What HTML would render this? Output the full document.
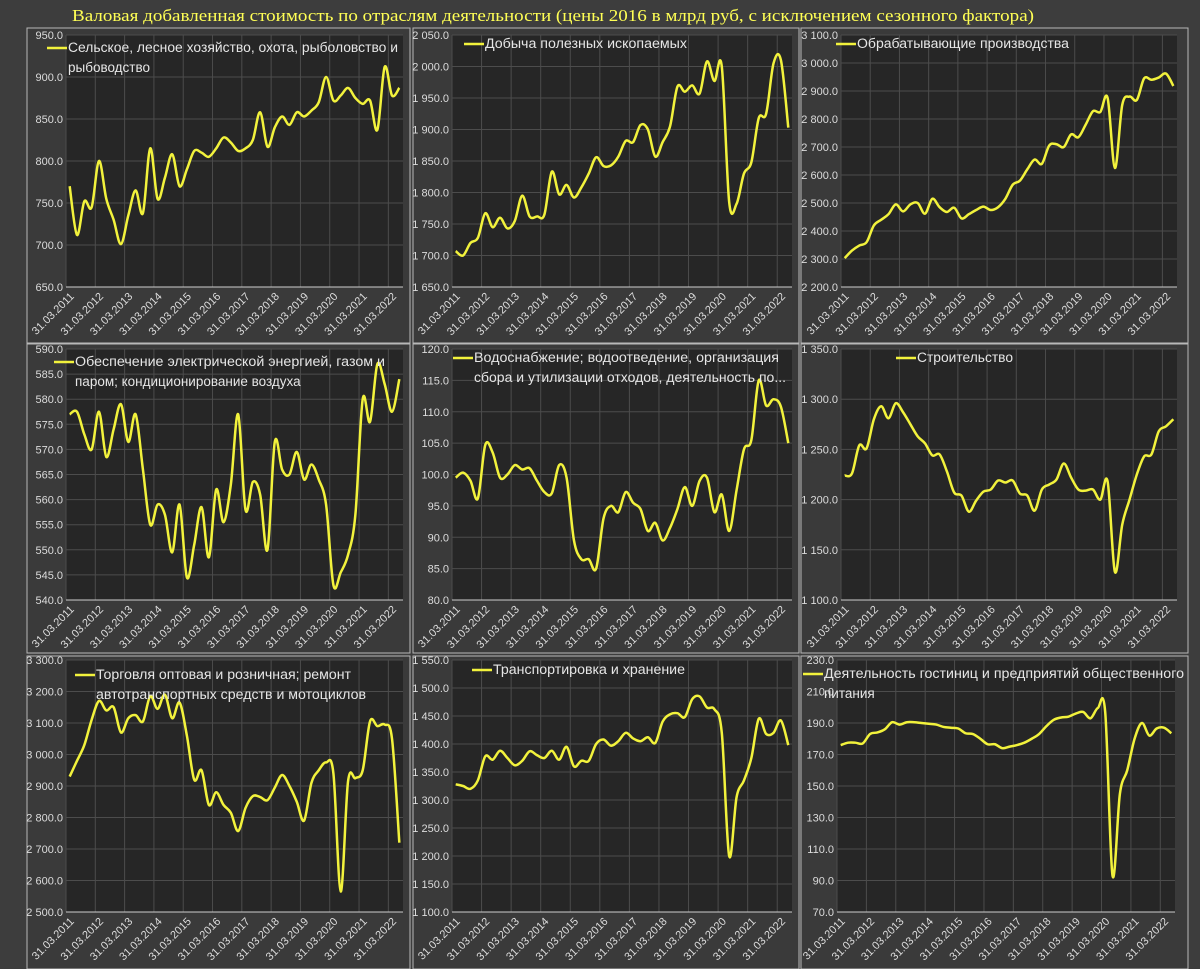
<!DOCTYPE html>
<html><head><meta charset="utf-8">
<style>
html,body{margin:0;padding:0;background:#3d3d3d;}
svg{display:block;font-family:"Liberation Sans","DejaVu Sans",sans-serif;}
</style></head>
<body>
<svg id="chart" width="1200" height="969" viewBox="0 0 1200 969">
<rect x="0" y="0" width="1200" height="969" fill="#3d3d3d"/>
<text x="72" y="21" fill="#ffff55" font-family="Liberation Serif, serif" font-size="17" textLength="962" lengthAdjust="spacingAndGlyphs">Валовая добавленная стоимость по отраслям деятельности (цены 2016 в млрд руб, с исключением сезонного фактора)</text>
</svg>
<script>
const years = ["31.03.2011","31.03.2012","31.03.2013","31.03.2014","31.03.2015","31.03.2016","31.03.2017","31.03.2018","31.03.2019","31.03.2020","31.03.2021","31.03.2022"];
const agriValues = [770,712,752,745,800,755,730,701,735,765,738,815,755,780,808,770,790,812,810,805,815,828,822,812,815,825,858,817,840,853,843,858,853,860,870,900,872,878,887,875,868,872,837,912,878,887];
const miningValues = [1707,1700,1720,1728,1767,1745,1760,1743,1755,1795,1762,1762,1765,1833,1797,1812,1792,1808,1830,1856,1842,1843,1857,1882,1880,1907,1900,1857,1880,1905,1968,1960,1970,1957,2008,1977,2000,1785,1782,1830,1848,1918,1925,2005,2010,1903];
const manufValues = [2303,2330,2348,2360,2420,2440,2460,2495,2470,2495,2500,2462,2515,2485,2468,2483,2445,2460,2475,2487,2475,2485,2515,2565,2580,2620,2655,2640,2705,2710,2700,2745,2735,2780,2828,2825,2875,2625,2850,2880,2868,2945,2940,2948,2962,2918];
const energyValues = [577,577.5,573,570,577.5,568.5,574,579,571.5,577,566,555,559,557,549.5,559,544.5,551,558.5,548.5,562,555.5,563,577,558,563.5,561,550,571.5,566,565,569.5,564,567,564,559,543,545.5,549,557,580,575.5,587,583,577.5,584];
const waterValues = [99.5,100.3,99,96.2,104.7,103.5,99.5,100,101.5,100.8,101,99,97.2,97,101.5,99.5,89.5,86.5,86.5,85,93,95,94,97.2,95.5,94.5,91,92.3,89.5,91.5,94.5,98,95,99,99.5,94,96.8,91,97.5,104,105.5,115,111,112,110.8,105];
const constrValues = [1224,1226,1254,1251,1280,1293,1281,1296,1287,1275,1263,1256,1244,1245,1228,1207,1204,1188,1199,1208,1210,1219,1217,1219,1206,1204,1189,1210,1215,1220,1236,1222,1210,1209,1210,1200,1218,1128,1175,1200,1225,1243,1245,1268,1273,1280];
const tradeValues = [2930,2980,3030,3110,3170,3140,3150,3070,3115,3125,3105,3185,3145,3190,3115,3165,3060,2920,2950,2840,2880,2840,2815,2757,2830,2868,2865,2855,2895,2935,2900,2850,2790,2910,2950,2975,2940,2565,2915,2925,2950,3105,3090,3095,3050,2720];
const transportValues = [1328,1325,1320,1335,1378,1372,1388,1375,1362,1370,1387,1380,1375,1388,1372,1395,1360,1370,1370,1400,1408,1397,1405,1420,1410,1405,1412,1402,1440,1453,1455,1448,1480,1485,1465,1462,1420,1200,1305,1335,1375,1445,1418,1420,1442,1398];
const hotelValues = [176,177.5,177.5,177,183,184,186,190.5,189,190.5,190.5,190,189.5,189,187.5,187,186.5,183.5,183,180,176.5,176.5,174,175,176,177.5,180,183,188,192,193.5,194,196,197,193,199.5,197,93,145,160,180,190,182,186.5,187,183.5];

const NS = "http://www.w3.org/2000/svg";
const svg = document.getElementById("chart");
function mk(tag, attrs, parent){
  const e = document.createElementNS(NS, tag);
  for (const k in attrs) e.setAttribute(k, attrs[k]);
  (parent||svg).appendChild(e);
  return e;
}
function fmt(v){
  const s = v.toFixed(1);
  const [a,b] = s.split(".");
  return a.replace(/\B(?=(\d{3})+(?!\d))/g, " ") + "." + b;
}
function drawPanel(p){
  const g = mk("g", {});
  
  
  const box = mk("rect", {x:p.bx, y:p.by, width:p.bw, height:p.bh, fill:"#3a3a3a", stroke:"#b8b8b8", "stroke-width":1}, g);
  
  
  const pr = mk("rect", {x:p.x0, y:p.y0, width:p.x1-p.x0, height:p.y1-p.y0, fill:"#262626"}, g);
  
  
  const n = p.values.length;
  const bandW = (p.x1 - p.x0) / n;
  const xAt = i => p.x0 + bandW * (i + 0.5);
  const yAt = v => p.y1 - (v - p.min) / (p.max - p.min) * (p.y1 - p.y0);
  for (let k = 0; k <= n; k += 4){
    const gx = p.x0 + bandW * k;
    const l = mk("line", {x1:gx, x2:gx, y1:p.y0, y2:p.y1, stroke:"#4c4c4c", "stroke-width":1}, g);
    
    
  }
  for (let v = p.min; v <= p.max + 1e-9; v += p.step){
    const gy = yAt(v);
    const l = mk("line", {x1:p.x0, x2:p.x1, y1:gy, y2:gy, stroke: v===p.min ? "#cfcfcf" : "#4c4c4c", "stroke-width":1}, g);
    
    
    const t = mk("text", {x:p.x0 - 3, y:gy + 4, "text-anchor":"end", "font-size":11, fill:"#dcdcdc"}, g);
    t.textContent = fmt(v);
    
    
  }
  years.forEach((lab, k) => {
    const cx = xAt(k * 4);
    const ty = p.y1 + 10;
    const t = mk("text", {x:cx + 5, y:ty, "text-anchor":"end", "font-size":11, fill:"#dcdcdc", transform:`rotate(-45 ${cx + 5} ${ty})`}, g);
    t.textContent = lab;
    
    
  });
  const pts = p.values.map((v, i) => [xAt(i), yAt(v)]);
  let d = `M${pts[0][0]},${pts[0][1]}`;
  for (let i = 0; i < pts.length - 1; i++){
    const p0 = pts[i-1] || pts[i], p1 = pts[i], p2 = pts[i+1], p3 = pts[i+2] || pts[i+1];
    const c1 = [p1[0] + (p2[0]-p0[0])/6, p1[1] + (p2[1]-p0[1])/6];
    const c2 = [p2[0] - (p3[0]-p1[0])/6, p2[1] - (p3[1]-p1[1])/6];
    d += ` C${c1[0]},${c1[1]} ${c2[0]},${c2[1]} ${p2[0]},${p2[1]}`;
  }
  const path = mk("path", {d:d, fill:"none", stroke:"#f2f23c", "stroke-width":2.5, "stroke-linejoin":"round"}, g);
  
  
  const lg = mk("g", {}, g);
  
  
  mk("line", {x1:p.lx, x2:p.lx + 20, y1:p.ly - 4, y2:p.ly - 4, stroke:"#f2f23c", "stroke-width":2.5}, lg);
  p.legend.forEach((line, j) => {
    const t = mk("text", {x:p.lx + 21, y:p.ly + j * 20, "font-size":13.5, fill:"#e6e6e6"}, lg);
    if (p.lw && p.lw[j]) { t.setAttribute("textLength", p.lw[j]); t.setAttribute("lengthAdjust", "spacingAndGlyphs"); }
    t.textContent = line;
  });
}
const C = [{bx:27,bw:383,x0:66,x1:403},{bx:413,bw:386,x0:452,x1:792},{bx:801,bw:387,x0:841,x1:1177}];
const R = [{by:28,bh:315,y0:35,y1:287},{by:344,bh:309,y0:349,y1:600},{by:656,bh:313,y0:660,y1:912}];
function P(c, r, o){ return Object.assign({}, C[c], R[r], o); }
[
 P(0,0,{name:"agriculture", values:agriValues, min:650, max:950, step:50, lx:47, ly:52, legend:["Сельское, лесное хозяйство, охота, рыболовство и","рыбоводство"], lw:[330,0]}),
 P(1,0,{name:"mining", values:miningValues, min:1650, max:2050, step:50, lx:464, ly:48, legend:["Добыча полезных ископаемых"], lw:[202]}),
 P(2,0,{name:"manufacturing", values:manufValues, min:2200, max:3100, step:100, lx:836, ly:48, legend:["Обрабатывающие производства"], lw:[212]}),
 P(0,1,{name:"energy", values:energyValues, min:540, max:590, step:5, lx:54, ly:366, legend:["Обеспечение электрической энергией, газом и","паром; кондиционирование воздуха"], lw:[310,0]}),
 P(1,1,{name:"water", values:waterValues, min:80, max:120, step:5, lx:453, ly:362, legend:["Водоснабжение; водоотведение, организация","сбора и утилизации отходов, деятельность по..."], lw:[305,312]}),
 P(2,1,{name:"construction", values:constrValues, min:1100, max:1350, step:50, lx:896, ly:362, legend:["Строительство"], lw:[96]}),
 P(0,2,{name:"trade", values:tradeValues, min:2500, max:3300, step:100, lx:75, ly:679, legend:["Торговля оптовая и розничная; ремонт","автотранспортных средств и мотоциклов"], lw:[255,270]}),
 P(1,2,{name:"transport", values:transportValues, min:1100, max:1550, step:50, lx:472, ly:674, legend:["Транспортировка и хранение"], lw:[192]}),
 P(2,2,{name:"hotels", values:hotelValues, min:70, max:230, step:20, x0:837, x1:1175, lx:803, ly:678, legend:["Деятельность гостиниц и предприятий общественного","питания"], lw:[360,0]})
].forEach(drawPanel);
</script>
</body></html>
